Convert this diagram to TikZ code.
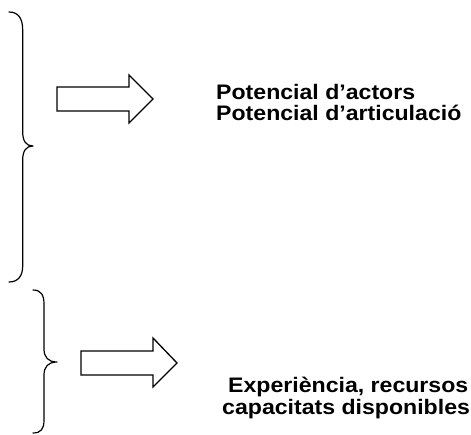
\documentclass[tikz,border=0pt]{standalone}
\usepackage{fontspec}
\setmainfont{Liberation Sans}
\newfontfamily\reffont[FakeStretch=1.1]{Liberation Sans}
\begin{document}
\begin{tikzpicture}[x=1pt,y=-1pt,
  brace/.style={draw=black,line width=1.2pt,line join=round,line cap=round},
  blockarrow/.style={draw=black,fill=white,line width=1.3pt,line join=miter},
  label/.style={anchor=base west,inner sep=0pt,font=\reffont\bfseries\fontsize{21}{21}\selectfont}]
\useasboundingbox (0,0) rectangle (471,435);
% upper brace
\draw[brace] (9,12) .. controls (18,12) and (22.7,18) .. (22.7,30)
  -- (22.7,132) .. controls (22.7,141) and (26,146) .. (33,146)
  .. controls (26,146) and (22.7,151) .. (22.7,160)
  -- (22.7,266) .. controls (22.7,276) and (18,282) .. (9,282);
% lower brace
\draw[brace] (33,290) .. controls (41,290) and (44,295) .. (44,304)
  -- (44,349) .. controls (44,357) and (48,362) .. (57,362)
  .. controls (48,362) and (44,367) .. (44,375)
  -- (44,420) .. controls (44,429) and (41,433) .. (33,433);
% upper block arrow
\draw[blockarrow] (57,87) -- (129,87) -- (129,75) -- (153,99) -- (129,123)
  -- (129,111) -- (57,111) -- cycle;
% lower block arrow
\draw[blockarrow] (81,351) -- (153,351) -- (153,338) -- (177,363) -- (153,387)
  -- (153,375) -- (81,375) -- cycle;
% texts
\node[label] (t1) at (216,100) {Potencial d’actors};
\node[label] (t2) at (216,121) {Potencial d’articulació};
\node[label] (t3) at (228,392) {Experiència, recursos};
\node[label] (t4) at (222,414) {capacitats disponibles};
\end{tikzpicture}
\end{document}
